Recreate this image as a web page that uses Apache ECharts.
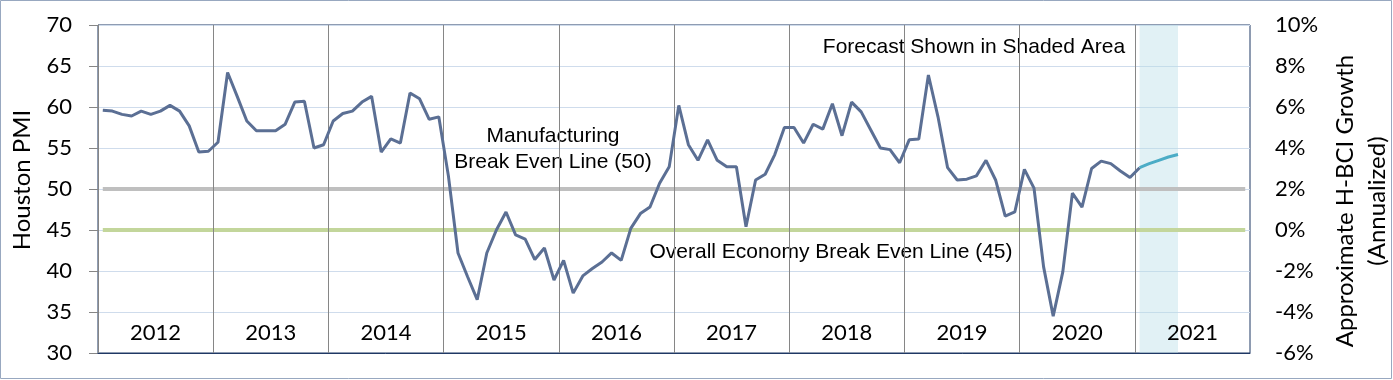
<!DOCTYPE html>
<html><head><meta charset="utf-8">
<script src="https://cdn.jsdelivr.net/npm/echarts@6/dist/echarts.min.js"></script>
<style>html,body{margin:0;padding:0;background:#fff}#c{width:1393px;height:380px}</style>
</head><body><div id="c"></div>
<script>
// ---- data ----
const years = ['2012','2013','2014','2015','2016','2017','2018','2019','2020','2021'];
const pmi2012 = [59.6, 59.5, 59.1, 58.9, 59.5, 59.1, 59.5, 60.2, 59.5, 57.7, 54.5, 54.6];
const pmi2013 = [55.7, 64.2, 61.3, 58.3, 57.1, 57.1, 57.1, 57.9, 60.6, 60.7, 55.0, 55.4];
const pmi2014 = [58.3, 59.2, 59.5, 60.6, 61.3, 54.5, 56.1, 55.6, 61.7, 61.0, 58.5, 58.8];
const pmi2015 = [51.6, 42.2, 39.3, 36.5, 42.2, 45.0, 47.2, 44.4, 43.9, 41.4, 42.8, 38.9];
const pmi2016 = [41.3, 37.3, 39.4, 40.3, 41.1, 42.2, 41.3, 45.2, 47.0, 47.8, 50.7, 52.7];
const pmi2017 = [60.2, 55.4, 53.5, 56.0, 53.5, 52.7, 52.7, 45.4, 51.1, 51.8, 54.2, 57.5];
const pmi2018 = [57.5, 55.6, 57.9, 57.3, 60.4, 56.5, 60.6, 59.4, 57.2, 55.0, 54.8, 53.2];
const pmi2019 = [56.0, 56.1, 63.9, 58.8, 52.6, 51.1, 51.2, 51.6, 53.5, 51.1, 46.7, 47.2];
const pmi2020 = [52.4, 50.1, 40.5, 34.5, 39.9, 49.5, 47.8, 52.5, 53.4, 53.1, 52.2, 51.4];
const pmi2021 = [52.6];
const forecastMonths = ['2021-1','2021-2','2021-3','2021-4','2021-5'];
const forecast2021 = [52.6, 53.1, 53.5, 53.9, 54.2];
const breakEvenValues = [50, 45];
const leftAxis = {min: 30, max: 70, interval: 5};
const rightAxis = {min: -6, max: 10, interval: 2};
const annotations = ['Manufacturing\nBreak Even Line (50)', 'Overall Economy Break Even Line (45)', 'Forecast Shown in Shaded Area'];

// ---- build ----
const months = [];
years.forEach(y => { for (let m = 1; m <= 12; m++) months.push(y + '-' + m); });
const pmi = [].concat(pmi2012, pmi2013, pmi2014, pmi2015, pmi2016, pmi2017, pmi2018, pmi2019, pmi2020, pmi2021);
const first = months[0], last = months[months.length - 1];

const tickFont = 'Lato, "DejaVu Sans", sans-serif';
const annFont = '"Liberation Sans", Arial, sans-serif';

const chart = echarts.init(document.getElementById('c'), null, {renderer: 'canvas'});
chart.setOption({
  animation: false,
  backgroundColor: '#fff',
  grid: {left: 98, right: 143, top: 25, bottom: 27, containLabel: false, outerBoundsMode: 'none',
         show: true, borderColor: '#1f3864', borderWidth: 1, backgroundColor: 'transparent'},
  xAxis: [
    {type: 'category', data: months, boundaryGap: true, show: false},
    {type: 'category', data: years, boundaryGap: true, position: 'bottom', z: 4,
     axisLine: {show: true, lineStyle: {color: '#1f3864', width: 1}},
     axisTick: {show: false},
     axisLabel: {inside: true, margin: 9, color: '#000', fontFamily: tickFont, fontSize: 22, interval: 0},
     splitLine: {show: true, showMinLine: false, showMaxLine: false, interval: 0, lineStyle: {color: '#868686', width: 1}}}
  ],
  yAxis: [
    {type: 'value', min: leftAxis.min, max: leftAxis.max, interval: leftAxis.interval, position: 'left',
     name: 'Houston PMI', nameLocation: 'middle', nameRotate: 90, nameGap: 64,
     nameTextStyle: {color: '#000', fontFamily: tickFont, fontSize: 24, padding: [0, 0, 0, 18]},
     axisLine: {show: true, lineStyle: {color: '#868686', width: 1}},
     axisTick: {show: true, inside: false, length: 9, lineStyle: {color: '#868686'}},
     axisLabel: {color: '#000', fontFamily: tickFont, fontSize: 22, margin: 26},
     splitLine: {show: true, lineStyle: {color: '#cfdcec', width: 1}}},
    {type: 'value', min: rightAxis.min, max: rightAxis.max, interval: rightAxis.interval, position: 'right',
     name: 'Approximate H-BCI Growth\n(Annualized)', nameLocation: 'middle', nameRotate: 90, nameGap: 73,
     nameTextStyle: {color: '#000', fontFamily: tickFont, fontSize: 24, lineHeight: 32, align: 'center', padding: [0, 24, 0, 0]},
     axisLine: {show: false}, axisTick: {show: false},
     axisLabel: {color: '#000', fontFamily: tickFont, fontSize: 22, margin: 25, formatter: v => v + '%'},
     splitLine: {show: false}}
  ],
  series: [
    {type: 'line', xAxisIndex: 0, yAxisIndex: 0, z: 1, symbol: 'none', silent: true,
     data: [[first, breakEvenValues[0]], [last, breakEvenValues[0]]],
     lineStyle: {color: '#bfbfbf', width: 4}},
    {type: 'line', xAxisIndex: 0, yAxisIndex: 0, z: 1, symbol: 'none', silent: true,
     data: [[first, breakEvenValues[1]], [last, breakEvenValues[1]]],
     lineStyle: {color: '#c3d69b', width: 4}},
    {type: 'line', xAxisIndex: 0, yAxisIndex: 0, z: 5, symbol: 'none',
     data: pmi, lineStyle: {color: '#5b6f94', width: 3}},
    {type: 'line', xAxisIndex: 0, yAxisIndex: 0, z: 5, symbol: 'none',
     data: forecastMonths.map((m, i) => [m, forecast2021[i]]),
     lineStyle: {color: '#4bacc6', width: 3},
     markArea: {silent: true, itemStyle: {color: 'rgba(183,221,232,0.42)'},
       data: [[{xAxis: forecastMonths[0]}, {xAxis: forecastMonths[forecastMonths.length - 1]}]]}}
  ],
  graphic: [
    {type: 'rect', silent: true, shape: {x: 0.5, y: 0.5, width: 1391, height: 378},
     style: {fill: 'none', stroke: '#98a8c0', lineWidth: 1}},
    {type: 'text', silent: true, x: 553, y: 149,
     style: {text: annotations[0], fill: '#000', font: '21px ' + annFont, align: 'center', verticalAlign: 'middle', lineHeight: 26}},
    {type: 'text', silent: true, x: 831, y: 252,
     style: {text: annotations[1], fill: '#000', font: '21px ' + annFont, align: 'center', verticalAlign: 'middle'}},
    {type: 'text', silent: true, x: 974, y: 47,
     style: {text: annotations[2], fill: '#000', font: '21px ' + annFont, align: 'center', verticalAlign: 'middle'}}
  ]
});
</script></body></html>
